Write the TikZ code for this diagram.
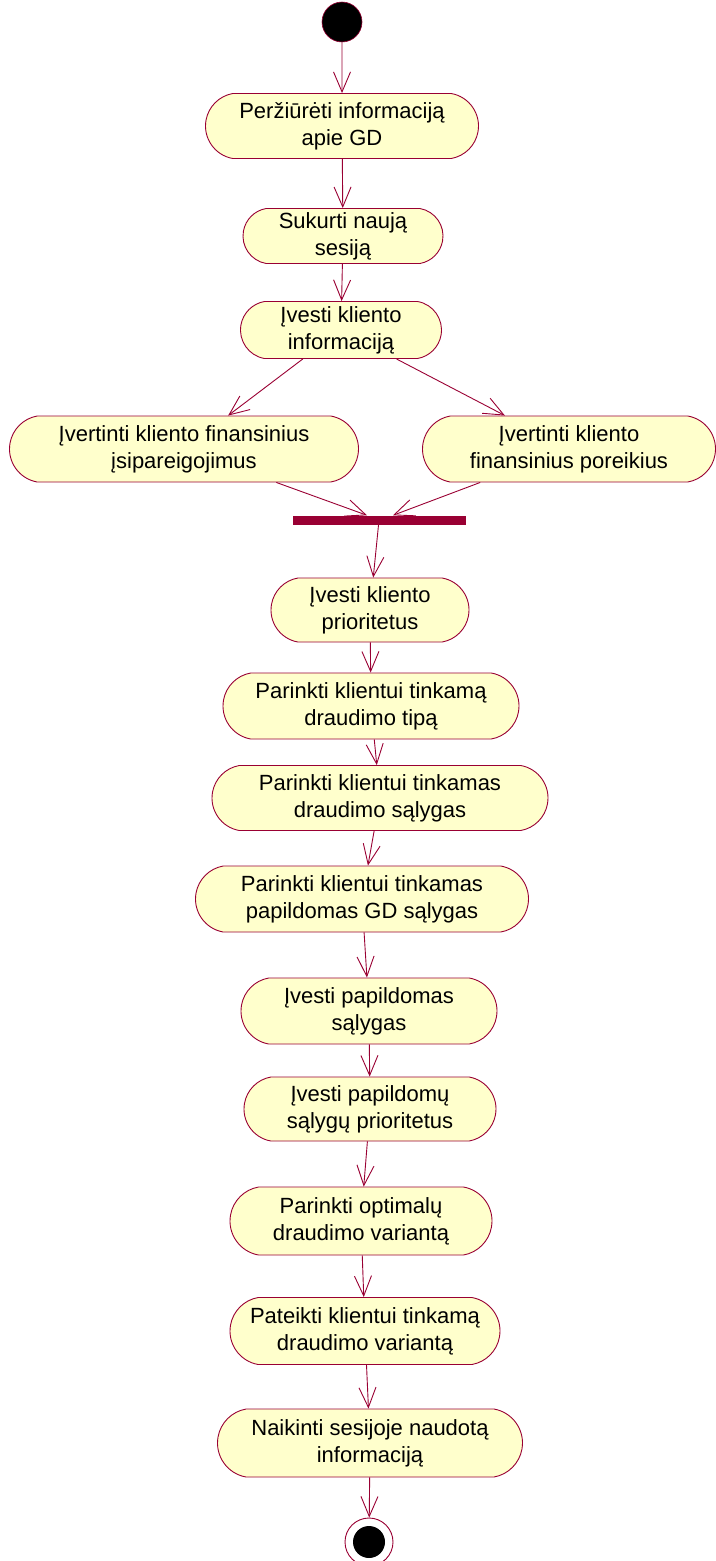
\documentclass[tikz,border=0pt]{standalone}
\usepackage{fontspec}
\setmainfont{Liberation Sans}
\usetikzlibrary{shapes.misc,arrows.meta}
\definecolor{umlred}{RGB}{153,0,51}
\definecolor{actfill}{RGB}{255,255,204}
\begin{document}
\begin{tikzpicture}[x=1pt,y=-1pt,
  act/.style={rounded rectangle, rounded rectangle arc length=160,
    draw=umlred, line width=0.9pt, fill=actfill, align=center,
    inner sep=0pt, font=\fontsize{22}{27}\selectfont},
  initial/.style={circle, fill=black, draw=umlred, line width=0.6pt,
    minimum size=40pt, inner sep=0pt},
  final/.style={circle, fill=white, draw=umlred, line width=0.9pt,
    minimum size=48pt, inner sep=0pt},
  syncbar/.style={rectangle, fill=umlred, minimum width=173pt,
    minimum height=9pt, inner sep=0pt},
  flow/.style={draw=umlred, line width=0.9pt,
    -{Straight Barb[length=20pt,width=17pt]}}]
\useasboundingbox (0,0) rectangle (715,1561);

% start
\node[initial] (start) at (342,22) {};

% activities
\node[act, minimum width=273pt, minimum height=65pt] (view) at (342,126)
  {Peržiūrėti informaciją\\apie GD};
\node[act, minimum width=200pt, minimum height=55pt] (newsess) at (343,236)
  {Sukurti naują\\sesiją};
\node[act, minimum width=201pt, minimum height=57pt] (clientinfo) at (341,330)
  {Įvesti kliento\\informaciją};
\node[act, minimum width=349pt, minimum height=66pt] (obligations) at (184,449)
  {Įvertinti kliento finansinius\\įsipareigojimus};
\node[act, minimum width=293pt, minimum height=66pt] (needs) at (569,449)
  {Įvertinti kliento\\finansinius poreikius};

% join
\node[syncbar] (join) at (379,520) {};

\node[act, minimum width=198pt, minimum height=64pt] (prio) at (370,610)
  {Įvesti kliento\\prioritetus};
\node[act, minimum width=296pt, minimum height=66pt] (type) at (371,706)
  {Parinkti klientui tinkamą\\draudimo tipą};
\node[act, minimum width=336pt, minimum height=65pt] (terms) at (380,798)
  {Parinkti klientui tinkamas\\draudimo sąlygas};
\node[act, minimum width=333pt, minimum height=66pt] (extra) at (362,899)
  {Parinkti klientui tinkamas\\papildomas GD sąlygas};
\node[act, minimum width=256pt, minimum height=66pt] (enterextra) at (369,1011)
  {Įvesti papildomas\\sąlygas};
\node[act, minimum width=252pt, minimum height=64pt] (extraprio) at (370,1109)
  {Įvesti papildomų\\sąlygų prioritetus};
\node[act, minimum width=262pt, minimum height=68pt] (optimal) at (361,1221)
  {Parinkti optimalų\\draudimo variantą};
\node[act, minimum width=270pt, minimum height=67pt] (present) at (365,1331)
  {Pateikti klientui tinkamą\\draudimo variantą};
\node[act, minimum width=305pt, minimum height=68pt] (cleanup) at (370,1443)
  {Naikinti sesijoje naudotą\\informaciją};

% end
\node[final] (end) at (369,1542) {};
\fill[black] (end.center) circle (16pt);

% transitions
\draw[flow] (start) -- (view);
\draw[flow] (view) -- (newsess);
\draw[flow] (newsess) -- (clientinfo);
\draw[flow] (clientinfo) -- (obligations);
\draw[flow] (clientinfo) -- (needs);
\draw[flow] (obligations) -- ([xshift=-12pt]join.north);
\draw[flow] (needs) -- ([xshift=14pt]join.north);
\draw[flow] (join) -- (prio);
\draw[flow] (prio) -- (type);
\draw[flow] (type) -- (terms);
\draw[flow] (terms) -- (extra);
\draw[flow] (extra) -- (enterextra);
\draw[flow] (enterextra) -- (extraprio);
\draw[flow] (extraprio) -- (optimal);
\draw[flow] (optimal) -- (present);
\draw[flow] (present) -- (cleanup);
\draw[flow] (cleanup) -- (end);
\end{tikzpicture}
\end{document}
